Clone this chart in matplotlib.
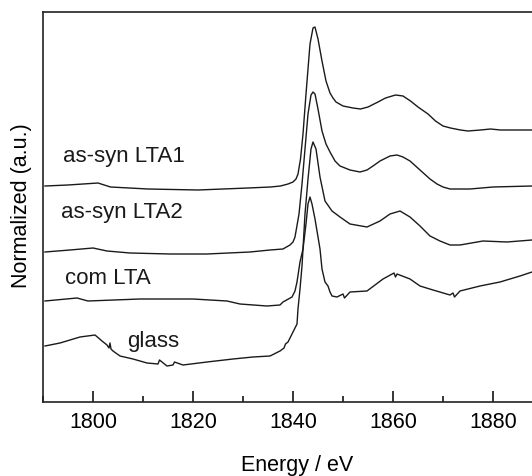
import matplotlib
matplotlib.use("Agg")
import matplotlib.pyplot as plt
from matplotlib.ticker import MultipleLocator

plt.rcParams['font.family'] = ['Liberation Sans', 'DejaVu Sans']

# S K-edge XANES, curves already offset vertically (a.u.)
e_lta1 = [1790.4, 1795, 1801, 1803.5, 1811, 1821, 1831, 1835.5, 1837.5, 1839, 1840, 1840.6,
          1841, 1841.5, 1842, 1842.6, 1843.4, 1844, 1844.4, 1845, 1845.8, 1846.6, 1847.4,
          1848, 1848.6, 1850, 1852, 1853.5, 1855, 1857, 1858.5, 1860.5, 1862, 1863.5, 1865,
          1867, 1868.5, 1870, 1871.5, 1873.5, 1875, 1877.5, 1879.5, 1881.5, 1884.5, 1888,
          1890.5]
y_lta1 = [21.6, 21.7, 21.9, 21.5, 21.3, 21.2, 21.4, 21.5, 21.6, 21.8, 22.0, 22.3,
          22.8, 24.3, 26.8, 30.8, 35.8, 37.4, 37.5, 36.3, 34.1, 32.1, 30.9,
          30.4, 30.0, 29.6, 29.4, 29.3, 29.5, 30.0, 30.4, 30.7, 30.6, 30.1, 29.5,
          28.8, 28.1, 27.6, 27.4, 27.2, 27.1, 27.2, 27.3, 27.2, 27.2, 27.2,
          27.2]

e_lta2 = [1790.4, 1795.4, 1800, 1802.8, 1807.4, 1815.4, 1822.8, 1831.4, 1835.4, 1838,
          1839.4, 1840, 1840.4, 1841.2, 1841.8, 1842.4, 1843, 1843.6, 1844, 1844.4, 1845,
          1845.8, 1846.6, 1847.4, 1848.4, 1849.4, 1851.4, 1853.4, 1854.8, 1856, 1857.4,
          1859.4, 1860.8, 1862, 1863.4, 1865.4, 1867.4, 1868.8, 1870, 1871.4, 1873.4,
          1875.4, 1880, 1887.8, 1890.4]
y_lta2 = [15.0, 15.2, 15.4, 15.1, 14.9, 14.8, 14.8, 15.0, 15.2, 15.3,
          15.7, 16.0, 16.5, 18.8, 21.8, 25.3, 28.8, 30.7, 31.0, 30.8, 29.3,
          27.1, 25.8, 25.0, 24.1, 23.6, 23.2, 23.0, 23.2, 23.6, 24.1,
          24.6, 24.7, 24.5, 24.1, 23.2, 22.3, 21.8, 21.5, 21.3, 21.3,
          21.3, 21.5, 21.6, 21.6]

e_com = [1790.4, 1796.8, 1799, 1809.4, 1820, 1826.8, 1829.4, 1834.8, 1837.4, 1838,
         1839.8, 1840.4, 1840.8, 1841.4, 1842, 1842.4, 1843, 1843.6, 1844, 1844.6, 1845.4,
         1846.4, 1847.8, 1849.4, 1851.4, 1854.8, 1857.4, 1859.4, 1861.4, 1863.4, 1865.4,
         1867.4, 1869.4, 1871.4, 1873.4, 1878, 1882.8, 1887.8, 1890.4]
y_com = [10.1, 10.4, 10.1, 10.3, 10.3, 10.1, 9.8, 9.6, 9.7, 10.0,
         10.5, 11.1, 12.0, 14.0, 15.3, 18.8, 22.3, 25.3, 26.0, 25.3, 22.5,
         20.1, 19.1, 18.5, 17.8, 17.5, 18.1, 18.8, 19.1, 18.5, 17.6,
         16.6, 16.1, 15.7, 15.7, 16.1, 16.0, 16.2, 16.3]

e_glass = [1790.4, 1793.4, 1797.4, 1800.4, 1801.8, 1802.8, 1803.2, 1803.4, 1803.6, 1804,
           1805.4, 1808, 1810.8, 1813, 1813.3, 1814.8, 1816, 1816.3, 1818, 1822.8, 1828,
           1832, 1835.4, 1837.4, 1838.2, 1838.5, 1839, 1840, 1840.8, 1841, 1841.4, 1841.8,
           1842, 1842.6, 1843, 1843.4, 1843.8, 1844.4, 1845.4, 1845.8, 1846.4, 1847,
           1847.4, 1847.8, 1848.8, 1850, 1850.3, 1851.4, 1854.8, 1858, 1860.2, 1860.5,
           1860.8, 1863.4, 1865.4, 1868, 1871.4, 1872, 1872.3, 1873.4, 1877.4, 1881.4,
           1885.4, 1887.8, 1890.4]
y_glass = [5.6, 5.9, 6.5, 6.7, 6.1, 5.7, 5.4, 5.9, 5.3, 5.1,
           4.6, 4.3, 3.9, 3.8, 4.2, 3.6, 3.7, 4.0, 3.7, 4.0, 4.3,
           4.5, 4.6, 5.1, 5.4, 5.8, 6.0, 7.0, 7.8, 9.3, 11.3, 13.6,
           15.3, 17.8, 19.8, 20.5, 19.8, 18.3, 15.3, 13.3, 12.0, 11.6,
           11.0, 10.6, 10.5, 10.8, 10.4, 11.0, 11.1, 12.3, 12.9, 12.5,
           12.8, 12.3, 11.6, 11.2, 10.7, 10.9, 10.5, 11.1, 11.6, 12.0,
           12.6, 13.0, 13.3]

labels = ["as-syn LTA1", "as-syn LTA2", "com LTA", "glass"]
label_pos = [(1794.0, 24.6), (1793.6, 19.0), (1794.4, 12.4), (1806.8, 6.1)]

fig = plt.figure(figsize=(5.32, 4.77), dpi=100)
ax = fig.add_axes([43 / 532, 74 / 477, 500 / 532, 390 / 477])

for e, y in [(e_lta1, y_lta1), (e_lta2, y_lta2), (e_com, y_com), (e_glass, y_glass)]:
    ax.plot(e, y, color='#1a1a1a', lw=1.0, solid_joinstyle='round')

for name, (x, y) in zip(labels, label_pos):
    ax.text(x, y, name, fontsize=16, ha='left', va='center', color='#1a1a1a')

ax.set_xlim(1790, 1890)
ax.set_ylim(0, 39)
ax.xaxis.set_major_locator(MultipleLocator(20))
ax.xaxis.set_minor_locator(MultipleLocator(10))
ax.tick_params(axis='x', which='major', direction='in', length=8, width=1.1,
               labelsize=15.5, pad=6.5, top=False)
ax.tick_params(axis='x', which='minor', direction='in', length=4.5, width=1.1, top=False)
ax.set_yticks([])
for s in ax.spines.values():
    s.set_linewidth(1.2)
    s.set_color('#222222')

ax.set_xlabel("Energy / eV", fontsize=15.5)
ax.xaxis.set_label_coords(0.508, -0.133)
ax.set_ylabel("Normalized (a.u.)", fontsize=15.5)
ax.yaxis.set_label_coords(-0.022, 0.505)

fig.savefig("out.png", dpi=100)
